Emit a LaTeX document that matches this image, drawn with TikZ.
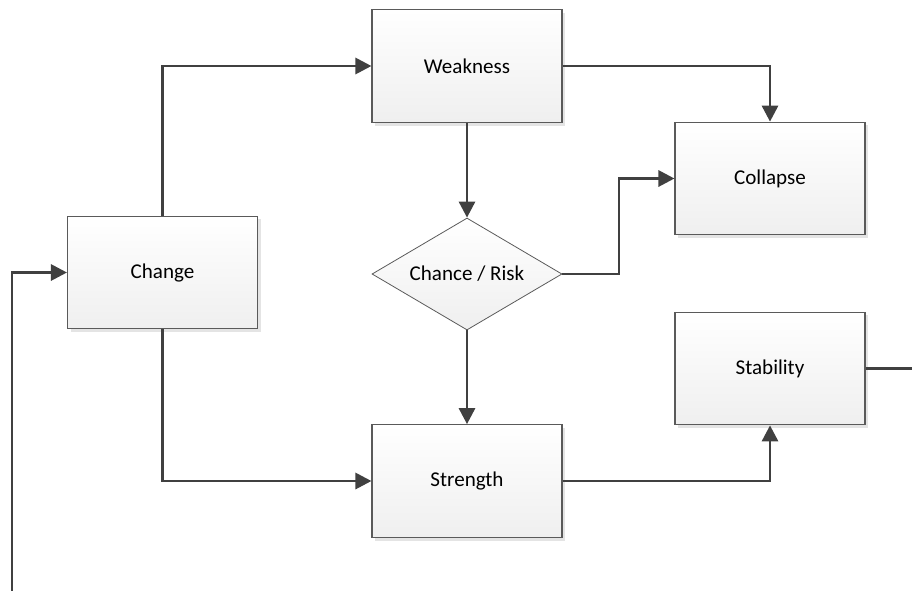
\documentclass[tikz,border=0pt]{standalone}
\usepackage{fontspec}
\setmainfont{Carlito}
\usetikzlibrary{shapes.geometric,arrows.meta,shadows}
\definecolor{boxline}{HTML}{5A5A5A}
\definecolor{conn}{HTML}{404040}
\definecolor{shade}{HTML}{E4E4E4}
\definecolor{boxbottom}{HTML}{EFEFEF}
\tikzset{
  flowbox/.style={rectangle, draw=boxline, line width=0.8pt, top color=white, bottom color=boxbottom,
    minimum width=142.5pt, minimum height=84.5pt, inner sep=0pt, font=\fontsize{15.8}{18}\selectfont,
    drop shadow={shadow xshift=2.4pt, shadow yshift=-2.4pt, fill=shade, opacity=1}},
  decision/.style={diamond, aspect=1.7, draw=boxline, line width=0.6pt, top color=white, bottom color=boxbottom,
    minimum width=142.5pt, minimum height=84pt, inner sep=0pt, font=\fontsize{15.8}{18}\selectfont},
  link/.style={draw=conn, line width=2.2pt, -{Triangle[length=12pt,width=12pt]}},
  plainlink/.style={draw=conn, line width=2.2pt}
}
\begin{document}
\begin{tikzpicture}[x=0.75pt,y=-0.75pt]
\useasboundingbox (0,0) rectangle (912,590);
\node[flowbox] (weak) at (467,66) {Weakness};
\node[flowbox] (coll) at (770,178.5) {Collapse};
\node[flowbox] (change) at (162.5,272.5) {Change};
\node[decision] (risk) at (467,274) {Chance / Risk};
\node[flowbox] (stab) at (770,368.5) {Stability};
\node[flowbox] (str) at (467,481) {Strength};
\coordinate (in) at (12,595);
\coordinate (out) at (915,368.5);
\coordinate (rj) at (619,274);
\draw[link] (change.north) |- (weak.west);
\draw[link] (weak.east) -| (coll.north);
\draw[link] (weak.south) -- (risk.north);
\draw[link] (risk.east) -- (rj) |- (coll.west);
\draw[link] (risk.south) -- (str.north);
\draw[link] (change.south) |- (str.west);
\draw[link] (str.east) -| (stab.south);
\draw[plainlink] (stab.east) -- (out);
\draw[link] (in) |- (change.west);
\end{tikzpicture}
\end{document}
